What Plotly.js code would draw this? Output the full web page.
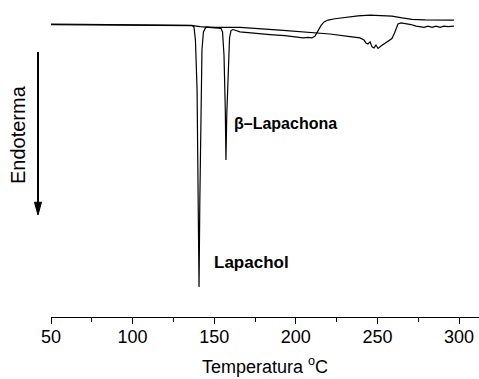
<!DOCTYPE html>
<html>
<head>
<meta charset="utf-8">
<script src="https://cdn.plot.ly/plotly-3.0.1.min.js"></script>
<style>
  html, body { margin: 0; padding: 0; background: #ffffff; }
  #chart { width: 479px; height: 379px; }
</style>
</head>
<body>
<div id="chart"></div>
<script>
// DSC thermograms (heat flow, arbitrary units; endotherm downward)

// Lapachol
const lapacholTemp = [50.0, 80.0, 110.7, 132.1, 136.4, 137.6, 138.5, 139.5, 140.2, 140.7,
  141.2, 141.8, 142.5, 143.4, 145.0, 150.5, 156.6, 165.8, 190.3, 220.9,
  233.2, 239.3, 241.8, 243.0, 244.2, 245.5, 246.7, 247.9, 249.1, 250.4,
  252.2, 254.7, 257.1, 258.9, 260.5, 261.7, 262.6, 264.5, 267.5, 270.6,
  273.7, 276.1, 278.6, 281.0, 283.5, 285.9, 288.4, 290.8, 293.3, 296.9];
const lapacholFlow = [0.00, -0.01, -0.02, -0.04, -0.05, -0.11, -0.61, -2.51, -5.93, -10.00,
  -6.69, -3.27, -0.99, -0.30, -0.11, -0.13, -0.13, -0.13, -0.23, -0.38,
  -0.48, -0.53, -0.61, -0.72, -0.76, -0.68, -0.87, -0.91, -0.80, -0.93,
  -0.84, -0.72, -0.63, -0.55, -0.34, -0.11, 0.00, 0.04, 0.02, -0.02,
  -0.08, -0.10, -0.13, -0.08, -0.13, -0.08, -0.13, -0.08, -0.10, -0.08];

// beta-Lapachona
const betaTemp = [50.0, 110.7, 137.0, 141.3, 147.4, 152.3, 154.2, 155.1, 156.0, 156.8,
  157.2, 157.7, 158.5, 159.4, 160.3, 161.5, 165.8, 175.0, 184.2, 193.4,
  199.5, 204.4, 207.5, 209.9, 211.8, 213.6, 215.4, 217.3, 219.7, 224.0,
  230.1, 238.1, 245.5, 252.8, 258.9, 265.1, 271.2, 279.2, 288.4, 296.9];
const betaFlow = [-0.02, -0.04, -0.06, -0.10, -0.12, -0.14, -0.17, -0.30, -1.18, -3.27,
  -5.17, -3.46, -1.56, -0.53, -0.25, -0.21, -0.30, -0.36, -0.40, -0.44,
  -0.48, -0.53, -0.51, -0.53, -0.46, -0.27, -0.06, 0.08, 0.15, 0.20,
  0.25, 0.31, 0.34, 0.33, 0.30, 0.23, 0.18, 0.16, 0.15, 0.15];

const xTickVals = [50, 100, 150, 200, 250, 300];
const xTickText = ['50', '100', '150', '200', '250', '300'];
const xMinorVals = [75, 125, 175, 225, 275];

const fontFamily = 'Arial, "Liberation Sans", sans-serif';

const traces = [
  {x: lapacholTemp, y: lapacholFlow, name: 'Lapachol', type: 'scatter', mode: 'lines',
   line: {color: '#000000', width: 1.2}},
  {x: betaTemp, y: betaFlow, name: 'β–Lapachona', type: 'scatter', mode: 'lines',
   line: {color: '#000000', width: 1.2}}
];

// "Endoterma" direction arrow, drawn in paper coordinates left of the plot
const arrowX = -0.0304;
const shapes = [
  {type: 'line', xref: 'paper', yref: 'paper', x0: arrowX, x1: arrowX, y0: 0.836, y1: 0.355,
   line: {color: '#000000', width: 2}},
  {type: 'path', xref: 'paper', yref: 'paper',
   path: `M ${arrowX - 0.0082} 0.362 L ${arrowX + 0.0082} 0.362 L ${arrowX} 0.3218 Z`,
   fillcolor: '#000000', line: {color: '#000000', width: 1}}
];

const layout = {
  width: 479, height: 379,
  margin: {l: 51, r: 0, t: 0, b: 62},
  paper_bgcolor: '#ffffff', plot_bgcolor: '#ffffff',
  showlegend: false,
  font: {family: fontFamily, color: '#000000'},
  xaxis: {
    range: [50, 312.25],
    showline: true, linecolor: '#000000', linewidth: 1,
    showgrid: false, zeroline: false,
    ticks: 'outside', ticklen: 6, tickwidth: 1, tickcolor: '#000000',
    tickvals: xTickVals, ticktext: xTickText,
    ticklabelstandoff: -3,
    tickfont: {size: 18, family: fontFamily, color: '#000000'},
    minor: {ticks: 'outside', ticklen: 3.5, tickwidth: 1, tickcolor: '#000000',
            tickvals: xMinorVals, showgrid: false},
    title: {text: 'Temperatura <sup>o</sup>C', font: {size: 18, family: fontFamily, color: '#000000'}, standoff: 14}
  },
  yaxis: {
    range: [-11.14, 0.913],
    visible: false, showgrid: false, zeroline: false
  },
  shapes: shapes,
  annotations: [
    {xref: 'paper', yref: 'paper', x: -0.0771, y: 0.574, text: 'Endoterma', textangle: -90,
     showarrow: false, xanchor: 'center', yanchor: 'middle',
     font: {size: 20, family: fontFamily, color: '#000000'}},
    {xref: 'x', yref: 'y', x: 160.9, y: -3.80, text: '<b>β–Lapachona</b>', showarrow: false,
     xanchor: 'left', yanchor: 'middle', font: {size: 16, family: fontFamily, color: '#000000'}},
    {xref: 'x', yref: 'y', x: 148.65, y: -9.05, text: '<b>Lapachol</b>', showarrow: false,
     xanchor: 'left', yanchor: 'middle', font: {size: 17, family: fontFamily, color: '#000000'}}
  ]
};

Plotly.newPlot('chart', traces, layout, {staticPlot: true, displayModeBar: false});
</script>
</body>
</html>
